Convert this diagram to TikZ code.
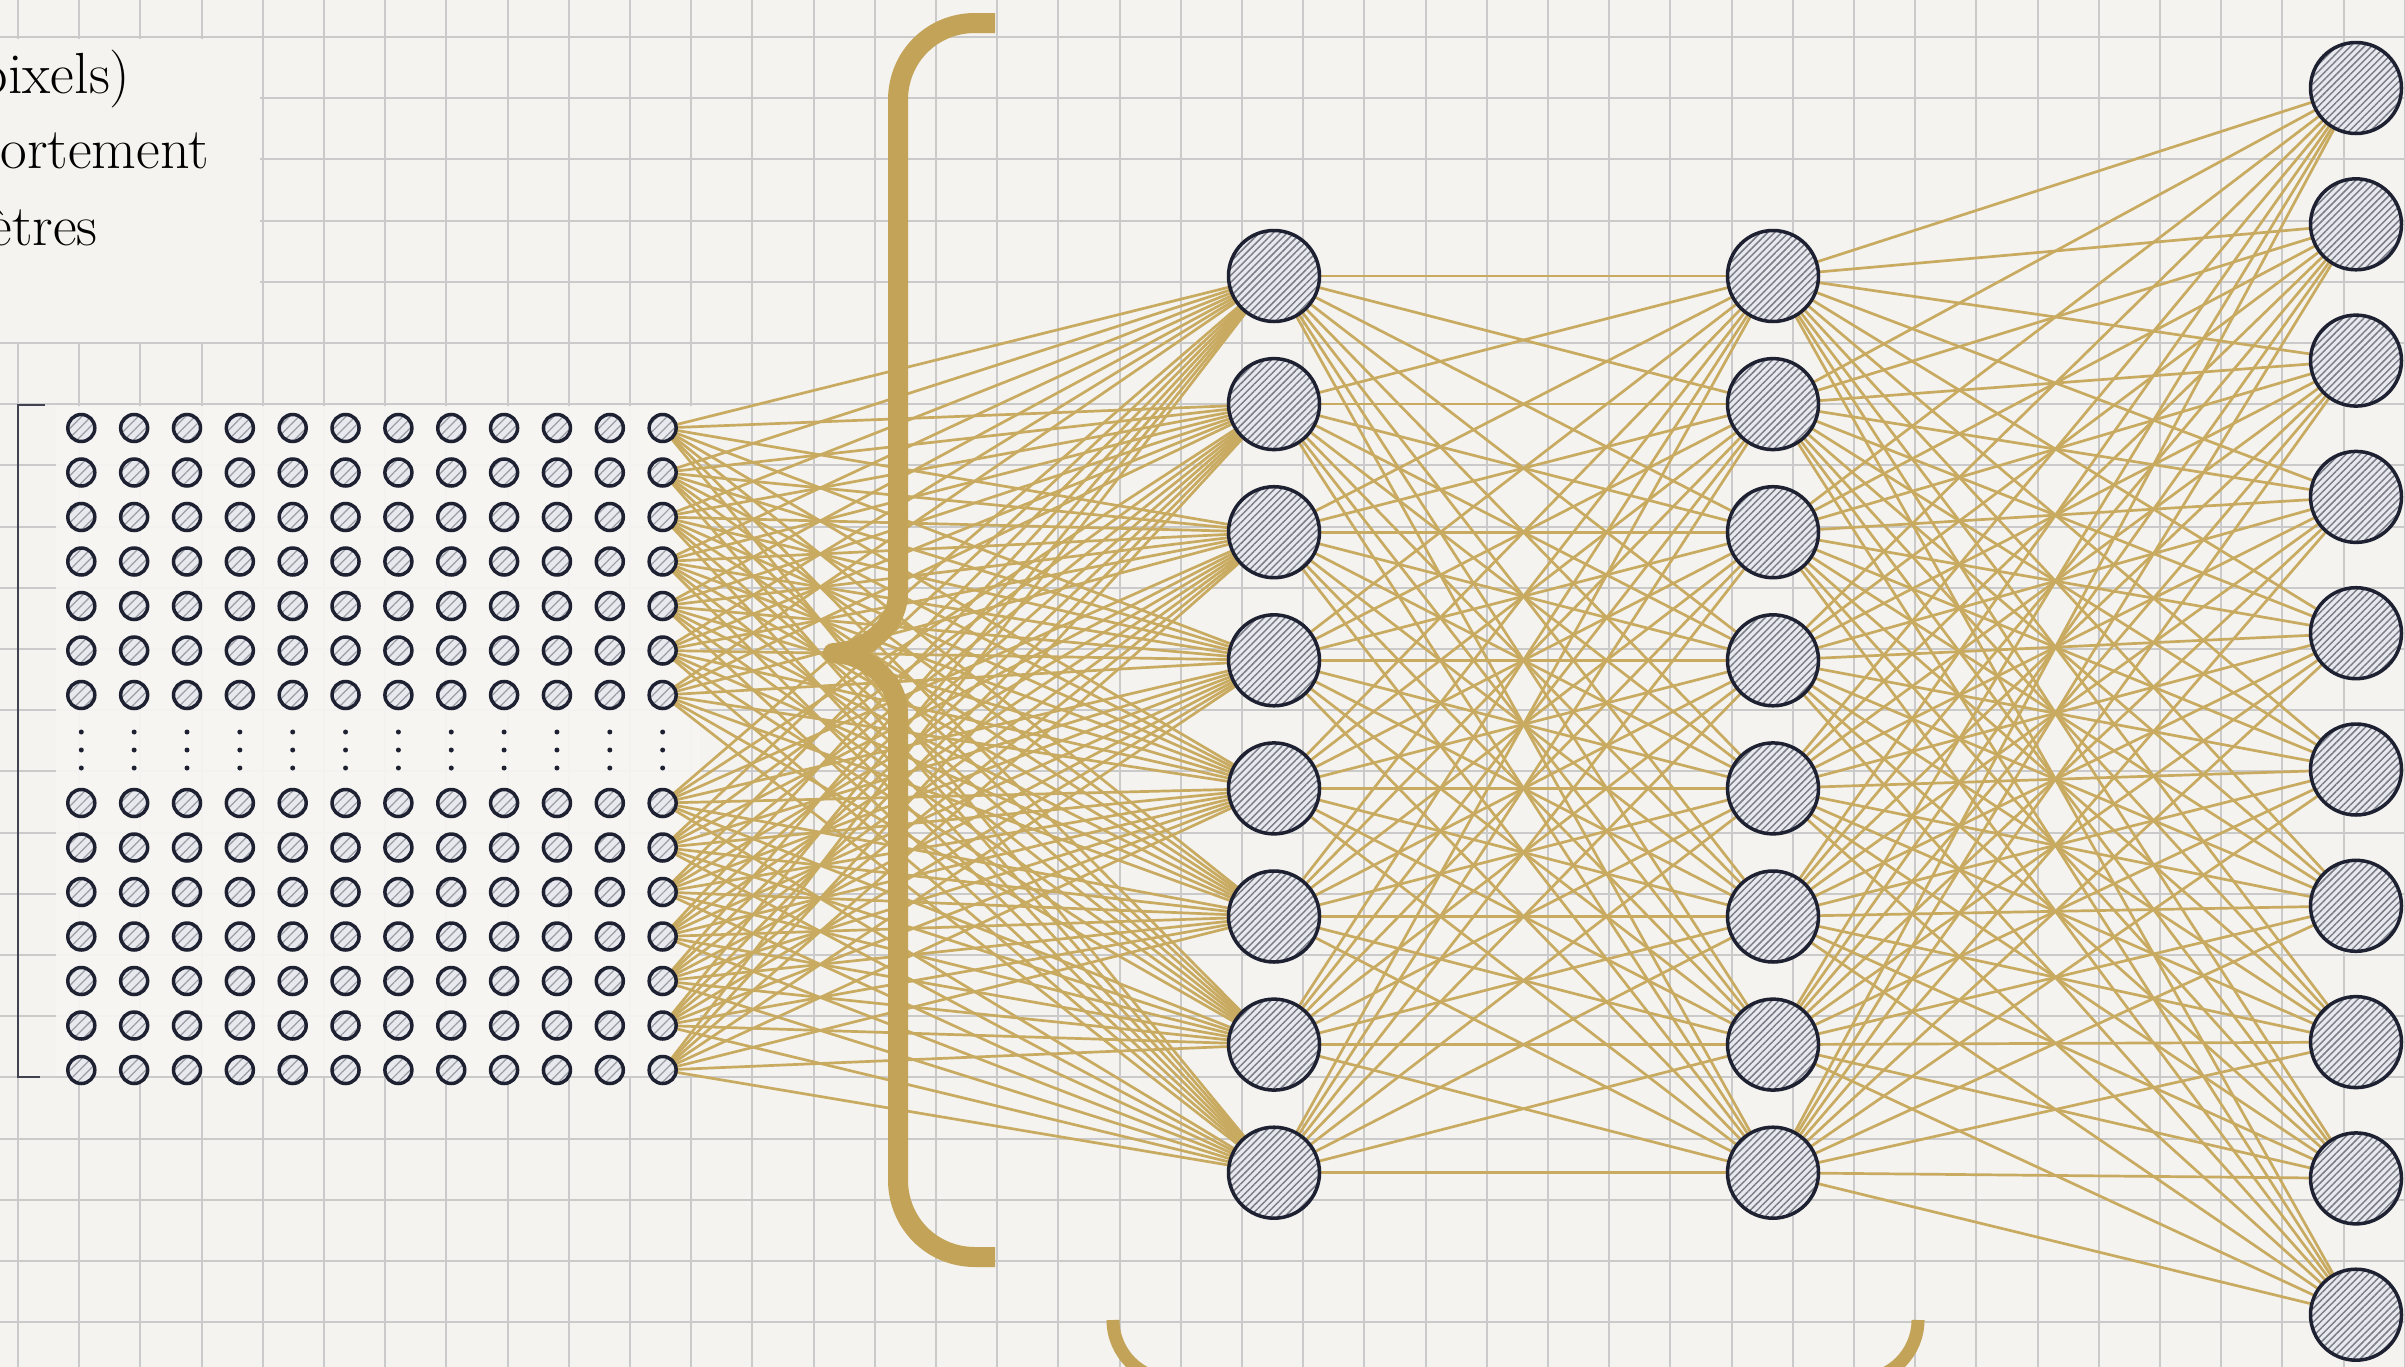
\documentclass[tikz,border=0pt]{standalone}
\usetikzlibrary{patterns.meta}

\definecolor{paper}{HTML}{F4F3EF}
\definecolor{panel}{HTML}{F7F6F3}
\definecolor{gridc}{HTML}{CACACA}
\definecolor{gold}{HTML}{C8AA60}
\definecolor{goldbrace}{HTML}{C2A357}
\definecolor{ink}{HTML}{1E2131}
\definecolor{cellfill}{HTML}{E8E9EE}
\definecolor{hatch}{HTML}{7A7C87}

\pgfdeclarelayer{paperlayer}
\pgfdeclarelayer{wires}
\pgfdeclarelayer{braces}
\pgfsetlayers{paperlayer,wires,braces,main}

\begin{document}
\begin{tikzpicture}[x=0.1mm,y=-0.1mm,
  neuron/.style={circle, inner sep=0pt, outer sep=0pt, minimum size=9.1mm,
    draw=ink, line width=0.35mm,
    preaction={fill=cellfill},
    preaction={pattern={Lines[angle=45,distance=1.4pt,line width=0.42pt]}, pattern color=hatch}},
  pixel/.style={circle, inner sep=0pt, outer sep=0pt, minimum size=2.7mm,
    draw=ink, line width=0.35mm,
    preaction={fill=cellfill},
    preaction={pattern={Lines[angle=45,distance=1.9pt,line width=0.35pt]}, pattern color=hatch!75}},
  wire/.style={draw=gold, line width=0.27mm},
  gridline/.style={draw=gridc, line width=0.2mm},
  bigbrace/.style={draw=goldbrace, line width=2mm, line cap=butt, line join=round},
  smallbrace/.style={draw=goldbrace, line width=1.3mm, line cap=butt},
  caption/.style={anchor=base west, inner sep=0pt, text=black,
    font=\fontsize{16.5}{20}\selectfont}
]
\useasboundingbox (0,0) rectangle (2405,1367);

% squared paper
\begin{pgfonlayer}{paperlayer}
  \fill[paper] (0,0) rectangle (2405,1367);
  \foreach \k in {0,...,39}
    \draw[gridline] ({18+61.2*\k},0) -- ({18+61.2*\k},1367);
  \foreach \k in {0,...,21}
    \draw[gridline] (0,{37+61.2*\k}) -- (2405,{37+61.2*\k});
  % plain areas behind the caption and the pixel matrix
  \fill[paper] (0,38.5) rectangle (259.5,341.5);
  \fill[panel, opacity=0.93] (56,406) rectangle (700,1075.5);
  % bracket of the pixel matrix
  \draw[ink!85, line width=0.25mm] (45,405) -- (18,405) -- (18,1077) -- (40,1077);
\end{pgfonlayer}

% caption
\node[caption] (cap1) at (-22,93) {pixels)};
\node[caption] (cap2) at (0,168) {ortement};
\node[caption] (cap3) at (-12,245) {ètres};

% input pixels: 12 columns, 7 rows, dots, 7 rows
\foreach \c in {1,...,12}{
  \foreach \r in {1,...,7}
    \node[pixel] (p-\c-\r) at ({81.3+52.85*(\c-1)},{428+44.5*(\r-1)}) {};
  \foreach \r in {8,...,14}
    \node[pixel] (p-\c-\r) at ({81.3+52.85*(\c-1)},{803+44.5*(\r-8)}) {};
  \foreach \d in {732,750,768}
    \fill[ink] ({81.3+52.85*(\c-1)},\d) circle (0.25mm);
}

% hidden layers
\foreach \j in {1,...,8}{
  \node[neuron] (ha-\j) at (1274,{276+128.1*(\j-1)}) {};
  \node[neuron] (hb-\j) at (1773,{276+128.1*(\j-1)}) {};
}

% output layer
\foreach \k in {1,...,10}
  \node[neuron] (o-\k) at (2356,{88+136.3*(\k-1)}) {};

% connections
\begin{pgfonlayer}{wires}
  \foreach \r in {1,...,14}{
    \foreach \j in {1,...,8}{
      \draw[wire] (p-12-\r.center) -- (ha-\j.center);
    }
  }
  \foreach \i in {1,...,8}{
    \foreach \j in {1,...,8}{
      \draw[wire] (ha-\i.center) -- (hb-\j.center);
    }
  }
  \foreach \i in {1,...,8}{
    \foreach \k in {1,...,10}{
      \draw[wire] (hb-\i.center) -- (o-\k.center);
    }
  }
\end{pgfonlayer}

% braces
\begin{pgfonlayer}{braces}
  \draw[bigbrace] (995,23) -- (975,23)
    .. controls (932,23) and (898,57) .. (898,100)
    -- (898,593)
    .. controls (898,628) and (862,653) .. (833,653)
    .. controls (862,653) and (898,678) .. (898,713)
    -- (898,1180)
    .. controls (898,1223) and (932,1257) .. (975,1257)
    -- (995,1257);
  \draw[smallbrace] (1113,1320)
    .. controls (1113,1353) and (1140,1380) .. (1173,1380)
    -- (1858,1380)
    .. controls (1891,1380) and (1918,1353) .. (1918,1320);
\end{pgfonlayer}
\end{tikzpicture}
\end{document}
